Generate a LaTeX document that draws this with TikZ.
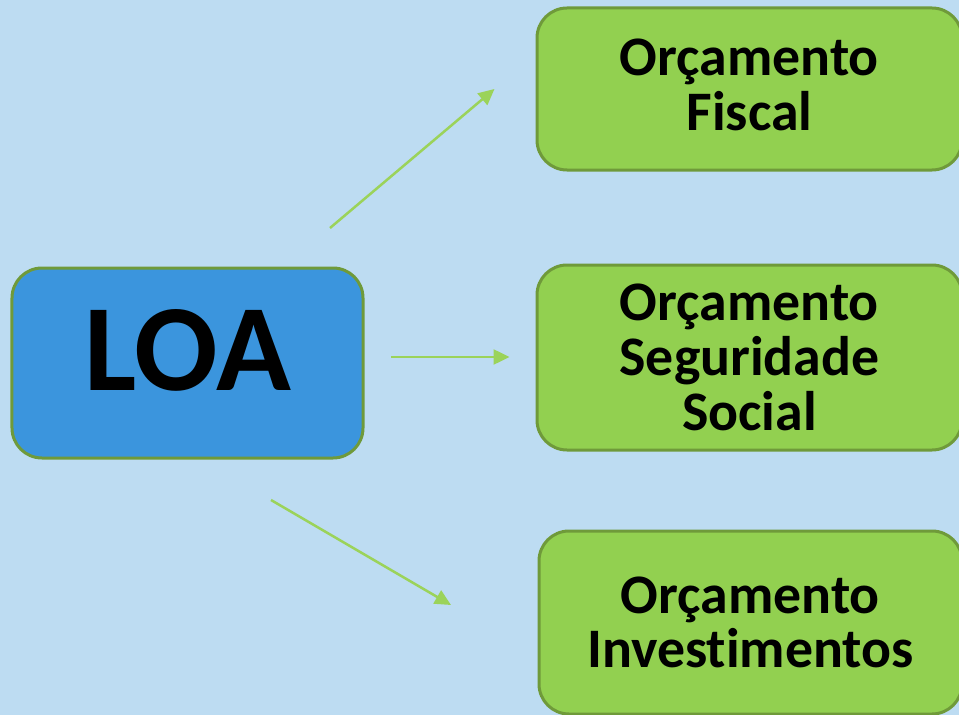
\documentclass[tikz,border=0pt]{standalone}
\usepackage{fontspec}
\setmainfont{Carlito}[Ligatures=NoCommon]
\usetikzlibrary{arrows.meta}
\usetikzlibrary{calc,positioning}

\definecolor{fundo}{HTML}{BDDCF2}
\definecolor{azul}{HTML}{3B95DD}
\definecolor{verde}{HTML}{92D050}
\definecolor{borda}{HTML}{6F9A3A}
\definecolor{seta}{HTML}{9BD35A}

\begin{document}
\begin{tikzpicture}[x=1bp, y=-1bp, >={Triangle[length=16bp,width=15bp]},
    caixa/.style={
        draw=borda, line width=3bp, rounded corners=30bp,
        fill=verde, align=center, inner sep=0pt,
        font=\fontsize{56}{55}\selectfont\bfseries
    },
    raiz/.style={
        caixa, fill=azul,
        font=\fontsize{124}{124}\selectfont\bfseries
    },
    link/.style={->, draw=seta, fill=seta, line width=2.5bp}
]

%%%

    \fill[fundo] (0,0) rectangle (959,715);
    \clip (0,0) rectangle (959,715);

    \node[raiz, minimum width=351bp, minimum height=190bp, text depth=27bp] (loa) at (187.5,363) {LOA};

    \node[caixa, minimum width=425bp, minimum height=162bp, text depth=8bp] (fiscal) at (749.5,89) {Orçamento\\Fiscal};
    \node[caixa, minimum width=425bp, minimum height=185bp] (seguridade) at (749.5,357.5) {Orçamento\\Seguridade\\Social};
    \node[caixa, minimum width=423bp, minimum height=183bp] (investimentos) at (750.5,622.5) {Orçamento\\Investimentos};

    \coordinate (fiscal in) at ([xshift=-41bp]fiscal.west);
    \coordinate (fiscal out) at (330,228);
    \coordinate (seguridade in) at ([xshift=-26bp]seguridade.west);
    \coordinate (seguridade out) at (391,357);
    \coordinate (investimentos in) at (451,605);
    \coordinate (investimentos out) at (271,500);

    \draw[link] (fiscal out) -- (fiscal in);
    \draw[link] (seguridade out) -- (seguridade in |- seguridade out);
    \draw[link] (investimentos out) -- (investimentos in);

\end{tikzpicture}
\end{document}
